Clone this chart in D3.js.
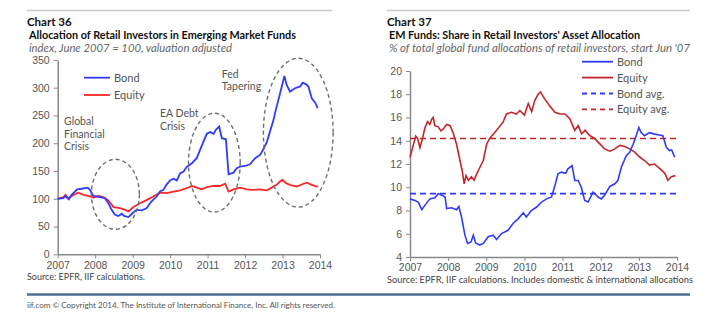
<!DOCTYPE html>
<html>
<head>
<meta charset="utf-8">
<script src="https://cdn.jsdelivr.net/npm/d3@7"></script>
<style>
  html, body { margin: 0; padding: 0; background: #fff; }
  svg { display: block; font-family: Lato, "Open Sans", sans-serif; }
  .tick text { fill: #555; font-size: 10.5px; }
  .axis path, .axis line { stroke: #888; }
</style>
</head>
<body>
<script>
const w = 709;
const h = 327;

// Chart 36: index, June 2007 = 100 ([decimal year, value])
const bond36 = [
  [2007.0, 100], [2007.15, 101], [2007.2, 105], [2007.3, 99], [2007.37, 107], [2007.52, 117],
  [2007.64, 118], [2007.8, 120], [2007.86, 116], [2007.95, 105], [2008.13, 103], [2008.26, 101],
  [2008.35, 92], [2008.44, 80], [2008.53, 71], [2008.62, 69], [2008.71, 73], [2008.77, 69],
  [2008.89, 67], [2008.98, 73], [2009.1, 80], [2009.24, 79], [2009.37, 83], [2009.5, 95],
  [2009.64, 104], [2009.73, 113], [2009.82, 116], [2009.9, 125], [2010.0, 133], [2010.09, 136],
  [2010.18, 133], [2010.27, 146], [2010.36, 149], [2010.44, 157], [2010.58, 164], [2010.71, 173],
  [2010.8, 188], [2010.89, 203], [2010.98, 217], [2011.07, 220], [2011.16, 217], [2011.22, 224],
  [2011.31, 230], [2011.38, 209], [2011.49, 207], [2011.56, 144], [2011.69, 147], [2011.78, 155],
  [2011.87, 158], [2012.0, 159], [2012.13, 162], [2012.27, 173], [2012.4, 179], [2012.49, 189],
  [2012.58, 202], [2012.67, 222], [2012.76, 242], [2012.82, 260], [2012.89, 278], [2012.98, 302],
  [2013.05, 321], [2013.11, 305], [2013.2, 293], [2013.33, 299], [2013.42, 301], [2013.47, 302],
  [2013.54, 309], [2013.63, 306], [2013.69, 302], [2013.78, 281], [2013.87, 273], [2013.94, 263]
];
const equity36 = [
  [2007.0, 100], [2007.15, 103], [2007.21, 107], [2007.28, 101], [2007.42, 107], [2007.55, 111],
  [2007.69, 107], [2007.82, 105], [2007.95, 102], [2008.09, 105], [2008.22, 103], [2008.35, 97],
  [2008.49, 85], [2008.66, 83], [2008.8, 80], [2008.89, 77], [2009.02, 85], [2009.2, 92],
  [2009.38, 98], [2009.55, 104], [2009.73, 111], [2009.91, 110], [2010.09, 113], [2010.27, 115],
  [2010.44, 119], [2010.58, 123], [2010.71, 120], [2010.84, 117], [2010.98, 121], [2011.16, 123],
  [2011.33, 123], [2011.47, 127], [2011.56, 113], [2011.69, 117], [2011.87, 120], [2012.04, 117],
  [2012.22, 116], [2012.4, 117], [2012.58, 115], [2012.71, 120], [2012.84, 125], [2012.93, 131],
  [2013.0, 134], [2013.09, 128], [2013.2, 125], [2013.38, 122], [2013.56, 127], [2013.65, 129],
  [2013.78, 125], [2013.91, 122], [2013.95, 123]
];
// dashed episode ellipses: [centre year, centre value, half width (years), half height (index)]
const episodes36 = [
  [2008.54, 108, 0.64, 63],
  [2011.18, 165, 0.69, 89],
  [2013.42, 219, 0.93, 134]
];
const episodeLabels36 = [
  { x: 2007.17, y: 233, lines: ["Global", "Financial", "Crisis"] },
  { x: 2009.73, y: 247, lines: ["EA Debt", "Crisis"] },
  { x: 2011.38, y: 318, lines: ["Fed", "Tapering"] }
];

// Chart 37: % of total global fund allocations
const bond37 = [
  [2007.0, 9.0], [2007.13, 8.87], [2007.22, 8.7], [2007.31, 8.07], [2007.39, 8.44], [2007.52, 9.0],
  [2007.65, 9.1], [2007.74, 9.44], [2007.85, 9.3], [2007.92, 9.16], [2007.96, 8.16], [2008.09, 8.24],
  [2008.22, 8.07], [2008.28, 8.36], [2008.35, 7.45], [2008.44, 5.88], [2008.51, 5.17], [2008.6, 5.3],
  [2008.66, 5.88], [2008.72, 5.2], [2008.83, 5.03], [2008.92, 5.17], [2009.05, 5.74], [2009.18, 5.88],
  [2009.27, 5.5], [2009.4, 6.02], [2009.57, 6.3], [2009.7, 6.88], [2009.84, 7.3], [2009.97, 7.8],
  [2010.05, 7.44], [2010.18, 8.0], [2010.32, 8.3], [2010.45, 8.73], [2010.58, 9.0], [2010.71, 9.16],
  [2010.8, 10.15], [2010.88, 11.15], [2010.97, 11.3], [2011.08, 11.2], [2011.14, 11.58], [2011.25, 11.86],
  [2011.32, 10.58], [2011.41, 10.58], [2011.49, 10.0], [2011.58, 8.87], [2011.67, 8.73], [2011.8, 9.58],
  [2011.93, 9.16], [2012.02, 9.0], [2012.1, 9.3], [2012.24, 10.07], [2012.37, 10.3], [2012.45, 10.58],
  [2012.54, 11.72], [2012.67, 12.72], [2012.76, 13.0], [2012.85, 13.7], [2012.93, 14.43], [2013.0, 15.14],
  [2013.06, 14.7], [2013.15, 14.43], [2013.28, 14.7], [2013.41, 14.57], [2013.54, 14.5], [2013.63, 14.43],
  [2013.72, 13.43], [2013.8, 13.15], [2013.86, 13.2], [2013.94, 12.58]
];
const equity37 = [
  [2007.0, 12.58], [2007.06, 13.3], [2007.15, 14.4], [2007.2, 14.2], [2007.26, 13.4], [2007.32, 14.1],
  [2007.39, 15.1], [2007.46, 15.65], [2007.52, 15.4], [2007.57, 15.85], [2007.61, 16.0], [2007.65, 15.3],
  [2007.74, 15.2], [2007.81, 14.85], [2007.87, 15.0], [2007.96, 15.4], [2008.05, 15.3], [2008.13, 14.7],
  [2008.22, 13.7], [2008.31, 12.3], [2008.37, 11.4], [2008.42, 10.3], [2008.47, 11.0], [2008.53, 10.6],
  [2008.61, 10.9], [2008.68, 10.6], [2008.75, 11.15], [2008.83, 11.7], [2008.92, 12.3], [2009.01, 13.7],
  [2009.09, 14.2], [2009.27, 14.9], [2009.44, 15.6], [2009.53, 16.3], [2009.66, 16.45], [2009.79, 16.3],
  [2009.88, 16.6], [2010.0, 16.2], [2010.1, 17.2], [2010.19, 16.5], [2010.27, 17.45], [2010.36, 18.0],
  [2010.42, 18.2], [2010.53, 17.6], [2010.66, 17.0], [2010.8, 16.45], [2010.93, 16.3], [2011.06, 16.3],
  [2011.19, 15.9], [2011.32, 14.9], [2011.41, 15.3], [2011.5, 14.6], [2011.59, 14.9], [2011.71, 14.45],
  [2011.84, 14.2], [2011.97, 13.75], [2012.1, 13.3], [2012.24, 13.1], [2012.37, 13.3], [2012.5, 13.6],
  [2012.63, 13.5], [2012.76, 13.3], [2012.9, 13.0], [2013.02, 12.6], [2013.15, 12.3], [2013.28, 11.9],
  [2013.41, 12.0], [2013.55, 11.6], [2013.68, 11.2], [2013.76, 10.6], [2013.85, 10.9], [2013.96, 11.0]
];
const bondAvg37 = 9.45;
const equityAvg37 = 14.2;

const years = [2007, 2008, 2009, 2010, 2011, 2012, 2013, 2014];
const ticks36 = [0, 50, 100, 150, 200, 250, 300, 350];
const ticks37 = [4, 6, 8, 10, 12, 14, 16, 18, 20];

const blue = "#2f3bff";
const red36 = "#ff2626";
const red37 = "#c4262b";

const svg = d3.select("body").append("svg")
  .attr("width", w)
  .attr("height", h);

// rule, chart number, bold title and italic unit line; title widths fixed to the panel
function header(x0, x1, num, title, titleLen, sub, subLen) {
  svg.append("line")
    .attr("x1", x0).attr("x2", x1).attr("y1", 10.5).attr("y2", 10.5)
    .attr("stroke", "#c8c8c8").attr("stroke-width", 1.5);
  svg.append("text").attr("x", x0).attr("y", 26)
    .attr("font-size", 11.5).attr("font-weight", "bold").attr("fill", "#111")
    .text(num);
  svg.append("text").attr("x", x0 + 2).attr("y", 38.5)
    .attr("font-size", 11.5).attr("font-weight", "bold").attr("fill", "#111")
    .attr("textLength", titleLen).attr("lengthAdjust", "spacingAndGlyphs")
    .text(title);
  svg.append("text").attr("x", x0 + 2).attr("y", 51.5)
    .attr("font-size", 10.5).attr("font-style", "italic").attr("fill", "#666")
    .attr("textLength", subLen).attr("lengthAdjust", "spacingAndGlyphs")
    .text(sub);
}

function axes(x, y, yTicks, yRange) {
  svg.append("g").attr("class", "axis")
    .attr("transform", `translate(0,${yRange[0]})`)
    .call(d3.axisBottom(x).tickValues(years).tickFormat(d3.format("d")).tickSize(4).tickSizeOuter(0));
  const gy = svg.append("g").attr("class", "axis")
    .attr("transform", `translate(${x.range()[0]},0)`)
    .call(d3.axisLeft(y).tickValues(yTicks).tickSize(4).tickSizeOuter(0));
  gy.selectAll(".tick text").attr("x", -8);
  svg.selectAll(".axis path").attr("stroke-width", 1.5);
}

function legend(items, x0, y0, dy, len) {
  items.forEach((it, i) => {
    const yy = y0 + i * dy;
    svg.append("line")
      .attr("x1", x0).attr("x2", x0 + len).attr("y1", yy).attr("y2", yy)
      .attr("stroke", it.color).attr("stroke-width", 1.8)
      .attr("stroke-dasharray", it.dash || null);
    svg.append("text").attr("x", x0 + len + 4).attr("y", yy + 4)
      .attr("font-size", 11).attr("fill", "#555").text(it.label);
  });
}

// ---- Chart 36 ----
header(27, 332, "Chart 36",
  "Allocation of Retail Investors in Emerging Market Funds", 267,
  "index, June 2007 = 100, valuation adjusted", 203);

const x36 = d3.scaleLinear().domain([2007, 2014]).range([57.7, 320]);
const y36 = d3.scaleLinear().domain([0, 350]).range([254.3, 59.9]);
axes(x36, y36, ticks36, y36.range());

const line36 = d3.line().x(d => x36(d[0])).y(d => y36(d[1]));
svg.append("path").datum(equity36).attr("d", line36)
  .attr("fill", "none").attr("stroke", red36).attr("stroke-width", 1.8);
svg.append("path").datum(bond36).attr("d", line36)
  .attr("fill", "none").attr("stroke", blue).attr("stroke-width", 1.8);

svg.selectAll("ellipse.ep")
  .data(episodes36).enter().append("ellipse")
  .attr("class", "ep")
  .attr("cx", d => x36(d[0]))
  .attr("cy", d => y36(d[1]))
  .attr("rx", d => x36(d[0] + d[2]) - x36(d[0]))
  .attr("ry", d => y36(d[1]) - y36(d[1] + d[3]))
  .attr("fill", "none").attr("stroke", "#6e6e6e")
  .attr("stroke-width", 1.4).attr("stroke-dasharray", "4,3");

episodeLabels36.forEach(l => {
  const t = svg.append("text").attr("x", x36(l.x)).attr("y", y36(l.y))
    .attr("font-size", 10.5).attr("fill", "#555");
  l.lines.forEach((s, i) => t.append("tspan").attr("x", x36(l.x)).attr("dy", i ? 12.8 : 0).text(s));
});

legend([{ label: "Bond", color: blue }, { label: "Equity", color: red36 }], 84, 77.7, 17.3, 26);

svg.append("text").attr("x", 27).attr("y", 280)
  .attr("font-size", 9).attr("fill", "#444").text("Source: EPFR, IIF calculations.");

// ---- Chart 37 ----
header(387, 690, "Chart 37",
  "EM Funds: Share in Retail Investors' Asset Allocation", 251,
  "% of total global fund allocations of retail investors, start Jun '07", 301);

const x37 = d3.scaleLinear().domain([2007, 2014]).range([410, 677]);
const y37 = d3.scaleLinear().domain([4, 20]).range([257, 71]);
axes(x37, y37, ticks37, y37.range());

svg.append("line")
  .attr("x1", x37(2007)).attr("x2", x37(2014)).attr("y1", y37(equityAvg37)).attr("y2", y37(equityAvg37))
  .attr("stroke", red37).attr("stroke-width", 1.6).attr("stroke-dasharray", "6,4");
svg.append("line")
  .attr("x1", x37(2007)).attr("x2", x37(2014)).attr("y1", y37(bondAvg37)).attr("y2", y37(bondAvg37))
  .attr("stroke", blue).attr("stroke-width", 1.6).attr("stroke-dasharray", "6,4");

const line37 = d3.line().x(d => x37(d[0])).y(d => y37(d[1]));
svg.append("path").datum(equity37).attr("d", line37)
  .attr("fill", "none").attr("stroke", red37).attr("stroke-width", 1.6);
svg.append("path").datum(bond37).attr("d", line37)
  .attr("fill", "none").attr("stroke", blue).attr("stroke-width", 1.6);

legend([
  { label: "Bond", color: blue },
  { label: "Equity", color: red37 },
  { label: "Bond avg.", color: blue, dash: "5,4" },
  { label: "Equity avg.", color: red37, dash: "5,4" }
], 582, 61.7, 15.9, 31);

svg.append("text").attr("x", 387).attr("y", 283)
  .attr("font-size", 9).attr("fill", "#444")
  .attr("textLength", 306).attr("lengthAdjust", "spacingAndGlyphs")
  .text("Source: EPFR, IIF calculations. Includes domestic & international allocations");

// footer
svg.append("line").attr("x1", 27).attr("x2", 690).attr("y1", 294.5).attr("y2", 294.5)
  .attr("stroke", "#4d6f91").attr("stroke-width", 2.5);
svg.append("text").attr("x", 27).attr("y", 308)
  .attr("font-size", 7.5).attr("fill", "#555")
  .attr("textLength", 308).attr("lengthAdjust", "spacingAndGlyphs")
  .text("iif.com \u00A9 Copyright 2014.  The Institute of International Finance, Inc. All rights reserved.");
</script>
</body>
</html>
